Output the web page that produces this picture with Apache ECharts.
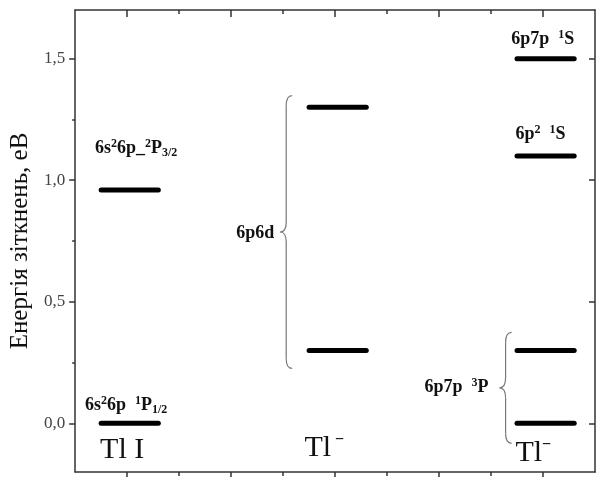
<!DOCTYPE html>
<html>
<head>
<meta charset="utf-8">
<script src="https://cdn.jsdelivr.net/npm/echarts@6/dist/echarts.min.js"></script>
<style>html,body{margin:0;padding:0;background:#fff}#c{width:600px;height:477px}</style>
</head>
<body>
<div id="c"></div>
<script>
// ---- data ----
const yMin = -0.2, yMax = 1.7;
const xMin = 0, xMax = 10;
const yLabelValues = [0, 0.5, 1.0, 1.5];
const yMinorValues = [0.25, 0.75, 1.25];
const xMajorValues = [1, 3, 5, 7, 9];
const xMinorValues = [2, 4, 6, 8];

const columnSpans = [[0.5, 1.6], [4.5, 5.6], [8.5, 9.6]];
const tlIEnergies = [0.0, 0.96];
const tl6p6dEnergies = [0.30, 1.30];
const tlMinusEnergies = [0.0, 0.30, 1.10, 1.50];

// braces: [x, yLow, yHigh]
const braceSpans = [[4.06, 0.226, 1.348], [8.28, -0.082, 0.374]];

// text labels
const labelTexts = [
  '{n|6s}{sup|2}{n|6p_}{sup|2}{n|P}{sub|3/2}',
  '{n|6s}{sup|2}{n|6p  }{sup|1}{n|P}{sub|1/2}',
  '{big|Tl I}',
  '{big|Tl}{bsup| −}',
  '{big|Tl}{bsup|−}',
  '{n|6p6d}',
  '{n|6p7p  }{sup|1}{n|S}',
  '{n|6p}{sup|2}{n|  }{sup|1}{n|S}',
  '{n|6p7p  }{sup|3}{n|P}'
];
const labelAnchors = [
  [0.38, 1.13, 'left'],
  [0.19, 0.074, 'left'],
  [0.48, -0.11, 'left'],
  [4.41, -0.10, 'left'],
  [8.47, -0.123, 'left'],
  [3.83, 0.78, 'right'],
  [8.39, 1.58, 'left'],
  [8.47, 1.19, 'left'],
  [6.72, 0.148, 'left']
];

// ---- build ----
const levelData = [];
[tlIEnergies, tl6p6dEnergies, tlMinusEnergies].forEach((arr, i) => {
  arr.forEach(e => levelData.push([columnSpans[i][0], columnSpans[i][1], e]));
});
const labelData = labelAnchors.map((a, i) => [a[0], a[1], i]);

const serif = 'Liberation Serif';
const rich = {
  n: { fontFamily: serif, fontSize: 18, fontWeight: 'bold', lineHeight: 21, fill: '#111', color: '#111' },
  sup: { fontFamily: serif, fontSize: 12, fontWeight: 'bold', lineHeight: 12, verticalAlign: 'top', fill: '#111', color: '#111' },
  sub: { fontFamily: serif, fontSize: 12, fontWeight: 'bold', lineHeight: 12, verticalAlign: 'bottom', fill: '#111', color: '#111' },
  big: { fontFamily: serif, fontSize: 30, lineHeight: 32, fill: '#111', color: '#111' },
  bsup: { fontFamily: serif, fontSize: 16, fontWeight: 'bold', lineHeight: 16, verticalAlign: 'top', fill: '#111', color: '#111' }
};

const axisLineStyle = { color: '#333', width: 1.5 };
const hiddenLabel = { show: false };

const option = {
  animation: false,
  backgroundColor: '#fff',
  grid: { left: 73, right: 5, top: 10, bottom: 5 },
  xAxis: [
    { type: 'value', position: 'bottom', min: xMin, max: xMax,
      axisLine: { show: true, onZero: false, lineStyle: axisLineStyle },
      axisTick: { show: true, inside: false, length: 6, customValues: xMajorValues, lineStyle: axisLineStyle },
      axisLabel: hiddenLabel, splitLine: { show: false } },
    { type: 'value', position: 'bottom', min: xMin, max: xMax,
      axisLine: { show: false, onZero: false },
      axisTick: { show: true, inside: false, length: 4, customValues: xMinorValues, lineStyle: axisLineStyle },
      axisLabel: hiddenLabel, splitLine: { show: false } },
    { type: 'value', position: 'top', min: xMin, max: xMax,
      axisLine: { show: true, onZero: false, lineStyle: axisLineStyle },
      axisTick: { show: true, inside: true, length: 7, customValues: xMajorValues, lineStyle: axisLineStyle },
      axisLabel: hiddenLabel, splitLine: { show: false } },
    { type: 'value', position: 'top', min: xMin, max: xMax,
      axisLine: { show: false, onZero: false },
      axisTick: { show: true, inside: true, length: 4, customValues: xMinorValues, lineStyle: axisLineStyle },
      axisLabel: hiddenLabel, splitLine: { show: false } }
  ],
  yAxis: [
    { type: 'value', position: 'left', min: yMin, max: yMax,
      name: 'Енергія зіткнень, еВ', nameLocation: 'middle', nameGap: 36,
      nameTextStyle: { fontFamily: serif, fontSize: 25, color: '#111' },
      axisLine: { show: true, onZero: false, lineStyle: axisLineStyle },
      axisTick: { show: true, inside: false, length: 6, customValues: yLabelValues, lineStyle: axisLineStyle },
      axisLabel: { show: true, customValues: yLabelValues, margin: 10, fontFamily: serif, fontSize: 17, color: '#444',
        formatter: v => v.toFixed(1).replace('.', ',') },
      splitLine: { show: false } },
    { type: 'value', position: 'left', min: yMin, max: yMax,
      axisLine: { show: false, onZero: false },
      axisTick: { show: true, inside: false, length: 3, customValues: yMinorValues, lineStyle: axisLineStyle },
      axisLabel: hiddenLabel, splitLine: { show: false } },
    { type: 'value', position: 'right', min: yMin, max: yMax,
      axisLine: { show: true, onZero: false, lineStyle: axisLineStyle },
      axisTick: { show: true, inside: true, length: 6, customValues: yLabelValues, lineStyle: axisLineStyle },
      axisLabel: hiddenLabel, splitLine: { show: false } }
  ],
  series: [
    {
      type: 'custom', xAxisIndex: 0, yAxisIndex: 0,
      data: levelData,
      encode: { x: [0, 1], y: 2 },
      renderItem: (params, api) => {
        const p0 = api.coord([api.value(0), api.value(2)]);
        const p1 = api.coord([api.value(1), api.value(2)]);
        return { type: 'line', shape: { x1: p0[0], y1: p0[1], x2: p1[0], y2: p1[1] },
          style: { stroke: '#000', lineWidth: 5, lineCap: 'round' } };
      }
    },
    {
      type: 'custom', xAxisIndex: 0, yAxisIndex: 0,
      data: braceSpans,
      encode: { x: 0, y: [1, 2] },
      renderItem: (params, api) => {
        const lo = api.coord([api.value(0), api.value(1)]);
        const hi = api.coord([api.value(0), api.value(2)]);
        const xc = lo[0], top = hi[1], bot = lo[1], mid = (top + bot) / 2;
        const w = 6, r = 10;
        const st = { stroke: '#777', lineWidth: 1.2, fill: null };
        return { type: 'group', children: [
          { type: 'bezierCurve', shape: { x1: xc + w, y1: top, cpx1: xc, cpy1: top, x2: xc, y2: top + r }, style: st },
          { type: 'line', shape: { x1: xc, y1: top + r, x2: xc, y2: mid - r }, style: st },
          { type: 'bezierCurve', shape: { x1: xc, y1: mid - r, cpx1: xc, cpy1: mid, x2: xc - w, y2: mid }, style: st },
          { type: 'bezierCurve', shape: { x1: xc - w, y1: mid, cpx1: xc, cpy1: mid, x2: xc, y2: mid + r }, style: st },
          { type: 'line', shape: { x1: xc, y1: mid + r, x2: xc, y2: bot - r }, style: st },
          { type: 'bezierCurve', shape: { x1: xc, y1: bot - r, cpx1: xc, cpy1: bot, x2: xc + w, y2: bot }, style: st }
        ] };
      }
    },
    {
      type: 'custom', xAxisIndex: 0, yAxisIndex: 0,
      data: labelData,
      encode: { x: 0, y: 1 },
      renderItem: (params, api) => {
        const p = api.coord([api.value(0), api.value(1)]);
        const i = api.value(2);
        return { type: 'text', x: p[0], y: p[1],
          style: { text: labelTexts[i], rich: rich, align: labelAnchors[i][2], verticalAlign: 'middle', fill: '#111' } };
      }
    }
  ]
};

const chart = echarts.init(document.getElementById('c'), null, { renderer: 'canvas' });
chart.setOption(option);
</script>
</body>
</html>
